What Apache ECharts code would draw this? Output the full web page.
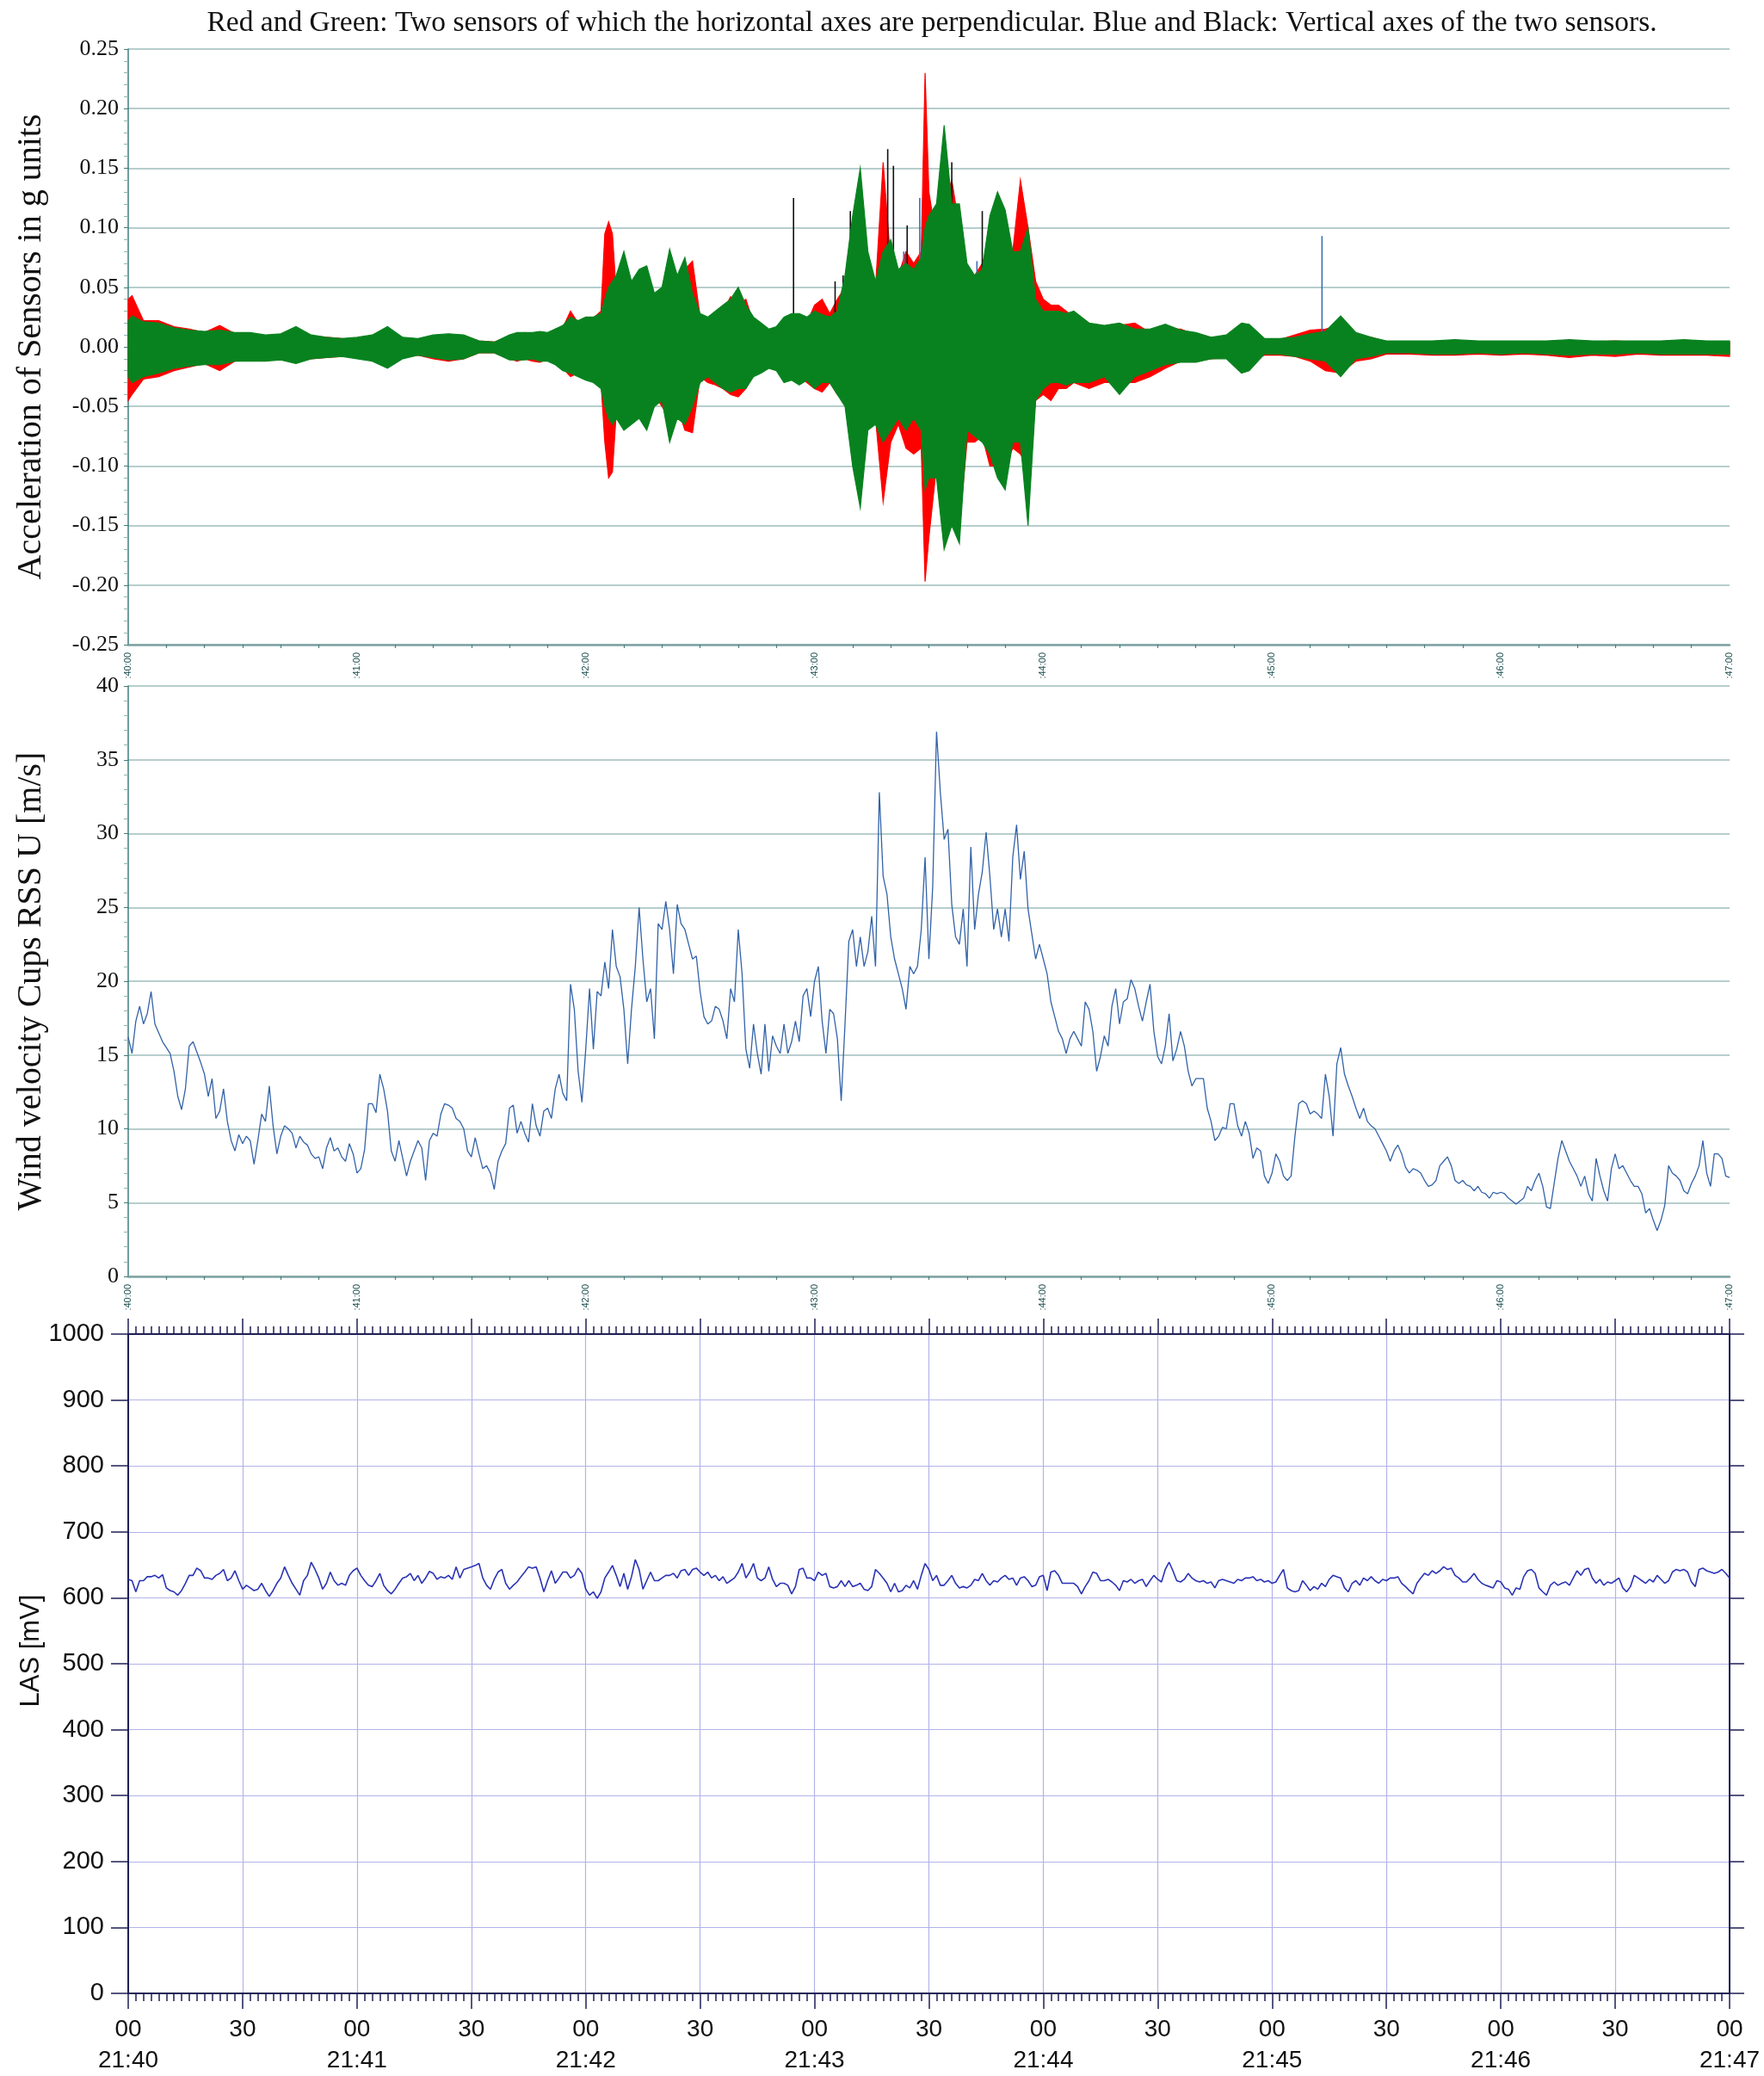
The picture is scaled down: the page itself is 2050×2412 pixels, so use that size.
<!DOCTYPE html>
<html><head><meta charset="utf-8">
<script src="https://cdn.jsdelivr.net/npm/echarts@6/dist/echarts.min.js"></script>
<style>html,body{margin:0;padding:0;background:#fff}#c{width:2050px;height:2412px}</style>
</head><body><div id="c"></div>
<script>
const titleText = "Red and Green: Two sensors of which the horizontal axes are perpendicular. Blue and Black: Vertical axes of the two sensors.";
const accName = "Acceleration of Sensors in g units";
const windName = "Wind velocity Cups RSS U [m/s]";
const lasName = "LAS [mV]";

// seconds after 21:40:00 at which the acceleration envelope was read
const accTime = [0,1,4,8,12,16,20,24,28,32,36,40,44,48,52,56,60,64,68,72,76,80,84,88,92,96,100,
 102,104,106,108,110,112,114,116,118,120,122,124,125,126,127,
 128,130,132,134,136,138,140,142,144,146,148,150,152,154,156,158,160,162,164,166,168,170,172,174,176,178,180,182,184,186,188,190,192,194,196,198,200,202,204,206,208,209,
 210,212,214,216,218,220,222,224,226,228,230,232,234,236,238,240,242,244,246,248,
 252,256,260,264,268,272,276,280,284,288,292,294,298,302,306,310,314,318,322,326,330,
 336,342,348,354,360,366,372,378,384,390,396,402,408,414,420];
// green sensor (horizontal) envelope, g
const greenHi = [.022,.026,.021,.020,.016,.014,.013,.014,.012,.012,.010,.011,.017,.010,.008,.007,.008,.010,.017,.008,.007,.010,.011,.010,.005,.004,.010,
 .012,.012,.012,.013,.012,.015,.018,.025,.022,.025,.025,.028,.040,.050,.055,
 .060,.080,.055,.065,.068,.045,.050,.082,.060,.075,.045,.028,.025,.030,.035,.040,.050,.035,.025,.020,.015,.017,.025,.028,.028,.025,.030,.027,.025,.030,.060,.110,.150,.080,.055,.080,.090,.065,.070,.065,.075,.100,
 .110,.120,.186,.120,.120,.070,.060,.065,.110,.130,.115,.080,.080,.100,.040,.030,.030,.030,.028,.030,
 .020,.018,.020,.015,.015,.019,.014,.012,.008,.010,.020,.019,.007,.007,.008,.011,.013,.026,.012,.008,.005,
 .005,.005,.006,.005,.005,.005,.005,.006,.005,.005,.005,.005,.006,.005,.005];
const greenLo = [-.025,-.030,-.025,-.022,-.018,-.016,-.015,-.015,-.012,-.012,-.012,-.011,-.014,-.010,-.009,-.008,-.010,-.012,-.018,-.010,-.007,-.009,-.011,-.010,-.005,-.005,-.011,
 -.011,-.011,-.010,-.012,-.012,-.015,-.020,-.022,-.025,-.028,-.030,-.035,-.050,-.060,-.065,
 -.060,-.070,-.065,-.060,-.070,-.050,-.045,-.080,-.060,-.065,-.050,-.030,-.025,-.030,-.035,-.038,-.035,-.035,-.025,-.022,-.018,-.020,-.030,-.028,-.032,-.028,-.035,-.030,-.030,-.040,-.050,-.100,-.135,-.070,-.065,-.080,-.070,-.060,-.070,-.060,-.070,-.120,
 -.110,-.110,-.170,-.150,-.165,-.070,-.075,-.080,-.090,-.110,-.120,-.080,-.080,-.150,-.045,-.035,-.030,-.030,-.032,-.030,
 -.030,-.025,-.040,-.025,-.020,-.015,-.013,-.013,-.010,-.010,-.022,-.020,-.006,-.006,-.008,-.010,-.012,-.025,-.010,-.008,-.005,
 -.005,-.006,-.006,-.005,-.006,-.005,-.006,-.007,-.006,-.006,-.005,-.006,-.006,-.006,-.006];
// red sensor (horizontal) envelope, g
const redHi = [.040,.043,.022,.022,.017,.015,.012,.018,.011,.010,.009,.010,.012,.009,.008,.007,.006,.008,.012,.007,.006,.008,.010,.009,.005,.004,.009,
 .011,.012,.010,.012,.010,.015,.016,.030,.020,.022,.024,.030,.095,.105,.095,
 .045,.050,.040,.050,.045,.035,.040,.055,.045,.065,.072,.025,.023,.025,.030,.042,.035,.040,.020,.015,.012,.015,.020,.022,.025,.020,.035,.040,.028,.040,.050,.080,.095,.060,.050,.155,.070,.060,.080,.070,.080,.230,
 .130,.090,.120,.140,.100,.060,.060,.070,.090,.120,.080,.080,.140,.100,.055,.040,.035,.035,.030,.025,
 .020,.015,.018,.020,.012,.015,.015,.010,.008,.008,.012,.010,.006,.006,.010,.014,.015,.018,.010,.008,.004,
 .004,.004,.005,.004,.004,.004,.004,.005,.004,.005,.004,.004,.005,.004,.004];
const redLo = [-.045,-.040,-.027,-.025,-.020,-.017,-.014,-.020,-.012,-.011,-.010,-.010,-.012,-.010,-.009,-.008,-.007,-.010,-.015,-.008,-.007,-.010,-.012,-.010,-.005,-.005,-.010,
 -.012,-.010,-.012,-.013,-.010,-.013,-.018,-.025,-.022,-.020,-.026,-.030,-.080,-.110,-.105,
 -.055,-.055,-.045,-.060,-.050,-.040,-.050,-.060,-.050,-.070,-.072,-.025,-.030,-.032,-.035,-.040,-.042,-.035,-.022,-.018,-.015,-.018,-.025,-.025,-.025,-.030,-.035,-.038,-.030,-.040,-.045,-.070,-.095,-.060,-.060,-.130,-.080,-.065,-.085,-.090,-.085,-.197,
 -.160,-.100,-.140,-.140,-.150,-.080,-.080,-.075,-.100,-.100,-.100,-.085,-.090,-.100,-.045,-.040,-.045,-.035,-.035,-.030,
 -.035,-.030,-.030,-.030,-.025,-.018,-.012,-.012,-.010,-.009,-.015,-.012,-.007,-.007,-.008,-.012,-.020,-.022,-.012,-.010,-.006,
 -.006,-.007,-.007,-.006,-.007,-.006,-.007,-.009,-.007,-.008,-.006,-.007,-.007,-.007,-.008];
// vertical-axis sensors: visible peaks only
const blackSpikeTime = [174.5,185.4,187.5,189.4,199.2,200.7,204.3,216.0,224.0,225.2];
const blackSpikeValue = [0.125,0.055,0.060,0.114,0.166,0.152,0.102,0.155,0.114,0.082];
const blueSpikeTime = [203.4,207.6,222.6,313.1];
const blueSpikeValue = [0.080,0.125,0.072,0.093];

// wind speed, one sample per second from 21:40:00
const windSpeed = [
16.2,15.1,17.3,18.3,17.1,17.8,19.3,17.1,16.5,15.9,
15.5,15.1,13.9,12.2,11.3,12.7,15.6,15.9,15.2,14.5,
13.7,12.2,13.4,10.7,11.2,12.7,10.5,9.2,8.5,9.6,
9.0,9.5,9.2,7.6,9.2,11.0,10.5,12.9,10.2,8.3,
9.5,10.2,10.0,9.7,8.7,9.5,9.1,8.9,8.3,8.0,
8.1,7.3,8.7,9.4,8.5,8.7,8.1,7.8,9.0,8.3,
7.0,7.3,8.6,11.7,11.7,11.1,13.7,12.7,11.2,8.5,
7.8,9.2,8.0,6.8,7.8,8.5,9.2,8.7,6.5,9.2,
9.7,9.5,11.0,11.7,11.6,11.4,10.7,10.5,10.0,8.5,
8.1,9.4,8.3,7.3,7.5,7.0,5.9,7.8,8.5,9.0,
11.4,11.6,9.7,10.5,9.7,9.1,11.7,10.2,9.5,11.2,
11.4,10.7,12.7,13.7,12.4,11.9,19.8,18.1,13.9,11.8,
15.4,19.5,15.4,19.3,19.0,21.3,19.5,23.5,21.0,20.3,
18.1,14.4,18.1,21.0,25.0,21.5,18.6,19.5,16.1,23.9,
23.5,25.4,23.5,20.5,25.2,23.9,23.5,22.5,21.5,21.7,
19.3,17.6,17.1,17.3,18.3,18.1,17.3,16.1,19.5,18.6,
23.5,20.5,15.4,14.1,17.1,15.1,13.7,17.1,13.9,16.3,
15.6,15.1,17.1,15.1,15.9,17.3,15.9,19.0,19.5,17.6,
20.0,21.0,17.3,15.1,18.1,17.8,16.1,11.9,17.1,22.7,
23.5,21.0,23.0,21.0,22.0,24.4,21.0,32.8,27.1,25.9,
23.0,21.5,20.5,19.5,18.1,21.0,20.5,21.0,23.5,28.4,
21.5,26.4,36.9,32.8,29.6,30.3,25.2,23.0,22.5,24.9,
21.0,29.1,23.5,25.9,27.4,30.1,27.1,23.5,24.9,23.0,
24.9,22.7,28.4,30.6,26.9,28.8,24.9,23.2,21.5,22.5,
21.5,20.5,18.6,17.6,16.6,16.1,15.1,16.1,16.6,16.1,
15.6,18.6,18.1,16.6,13.9,14.9,16.3,15.6,18.3,19.5,
17.1,18.6,18.8,20.1,19.5,18.3,17.3,18.6,19.8,16.6,
14.9,14.4,15.6,17.8,14.6,15.4,16.6,15.6,13.9,12.9,
13.4,13.4,13.4,11.4,10.5,9.2,9.5,10.1,10.0,11.7,
11.7,10.2,9.5,10.5,9.7,8.0,8.7,8.5,6.8,6.3,
7.0,8.3,7.8,6.8,6.5,6.8,9.5,11.7,11.9,11.7,
11.0,11.2,11.0,10.7,13.7,12.2,9.5,14.4,15.5,13.7,
12.9,12.2,11.4,10.7,11.4,10.5,10.2,10.0,9.5,9.0,
8.5,7.8,8.5,8.9,8.3,7.4,7.0,7.3,7.2,7.0,
6.5,6.1,6.2,6.5,7.5,7.8,8.1,7.5,6.5,6.3,
6.5,6.2,6.1,5.8,6.1,5.7,5.6,5.3,5.7,5.6,
5.7,5.6,5.3,5.1,4.9,5.1,5.3,6.1,5.8,6.5,
7.0,6.1,4.7,4.6,6.3,8.0,9.2,8.5,7.8,7.3,
6.8,6.1,6.8,5.6,5.1,8.0,6.8,5.8,5.1,7.3,
8.3,7.3,7.5,7.0,6.5,6.1,6.1,5.6,4.3,4.6,
3.8,3.1,3.8,4.8,7.5,7.0,6.8,6.5,5.8,5.6,
6.3,6.8,7.5,9.2,7.0,6.1,8.3,8.3,8.0,6.8,
6.7];

// LAS signal, mV, one sample per second from 21:40:00
const lasMilliVolt = [
628,626,609,626,626,632,632,634,630,635,
615,611,609,604,611,622,634,634,645,641,
630,630,628,634,637,643,626,630,641,626,
613,619,615,611,613,622,611,602,611,622,
630,647,634,622,613,604,626,634,654,643,
630,613,622,639,626,619,622,619,634,641,
645,634,626,619,617,626,637,619,611,606,
613,622,630,632,637,626,634,622,630,640,
637,628,632,630,634,628,647,630,643,645,
647,649,652,630,619,613,628,639,643,622,
613,619,624,632,639,647,645,647,630,609,
626,641,622,630,639,639,630,634,645,637,
613,604,609,599,609,630,639,649,634,617,
637,613,632,658,643,613,626,639,626,626,
630,634,634,637,630,641,643,634,643,645,
639,634,639,630,634,626,632,622,626,630,
639,652,630,639,652,630,626,630,647,628,
617,622,622,619,606,617,643,645,630,630,
626,639,634,637,617,615,617,626,617,626,
617,619,622,613,611,617,643,637,630,622,
609,622,609,611,619,615,626,613,634,652,
643,626,634,619,619,626,634,622,615,617,
615,619,628,626,637,626,619,626,624,630,
634,628,630,619,630,632,626,617,619,632,
634,611,639,641,634,622,622,622,622,617,
606,617,626,639,637,626,626,628,624,619,
611,626,624,628,622,626,628,617,626,634,
628,624,643,654,641,626,624,628,637,630,
626,624,626,622,624,615,626,628,626,624,
622,628,626,630,630,632,626,628,624,626,
622,624,634,643,615,611,609,611,626,619,
611,617,613,622,617,628,634,632,630,615,
609,622,626,619,630,626,632,626,622,628,
626,630,630,632,622,617,611,606,622,630,
637,634,641,637,641,647,643,645,634,630,
624,624,630,637,628,622,619,617,615,626,
624,615,613,604,615,613,632,641,643,637,
615,609,604,619,624,619,622,624,619,630,
641,634,643,645,630,622,628,619,624,622,
626,630,615,609,617,634,630,626,622,628,
624,634,628,622,626,639,643,641,643,639,
624,617,643,645,641,639,637,639,643,637,
630];

const serif = "'Liberation Serif', 'DejaVu Serif', serif";
const sans = "'Liberation Sans', Arial, sans-serif";
const tealAxis = '#3f7d7d', tealGrid = '#9fbcbc', tealBase = '#7fa3a3';
const navy = '#1f1f55', lasGrid = '#b3b3ea';

const chart = echarts.init(document.getElementById('c'), null, {renderer: 'canvas'});

function band(hi, lo, color, z) {
  return {
    type: 'custom', xAxisIndex: 0, yAxisIndex: 0, z: z, silent: true, animation: false,
    data: accTime.map((t, i) => [t, hi[i], lo[i]]),
    encode: {x: 0, y: [1, 2]},
    renderItem: function (params, api) {
      if (params.dataIndex !== 0) return null;
      const top = [], bot = [];
      for (let i = 0; i < accTime.length; i++) {
        top.push(api.coord([accTime[i], hi[i]]));
        bot.push(api.coord([accTime[i], lo[i]]));
      }
      return {type: 'polygon', shape: {points: top.concat(bot.reverse())},
        style: {fill: color, stroke: color, lineWidth: 1.2}};
    }
  };
}
function spikes(times, vals, color, z) {
  return {
    type: 'custom', xAxisIndex: 0, yAxisIndex: 0, z: z, silent: true, animation: false,
    data: times.map((t, i) => [t, vals[i]]),
    encode: {x: 0, y: 1},
    renderItem: function (params, api) {
      const p0 = api.coord([api.value(0), 0]);
      const p1 = api.coord([api.value(0), api.value(1)]);
      return {type: 'line', shape: {x1: p0[0], y1: p0[1], x2: p1[0], y2: p1[1]},
        style: {stroke: color, lineWidth: 1.6}};
    }
  };
}

function topXAxis(gridIndex) {
  return {
    type: 'value', gridIndex: gridIndex, min: 0, max: 420, interval: 60,
    axisLine: {show: true, onZero: false, lineStyle: {color: tealBase, width: 2.5}},
    axisTick: {show: false},
    minorTick: {show: true, splitNumber: 6, length: 4, lineStyle: {color: '#4f8080', width: 1.2}},
    splitLine: {show: false},
    axisLabel: {rotate: 90, margin: 9, fontSize: 11, fontFamily: sans, color: '#1f5050',
      formatter: v => ':' + (40 + v / 60) + ':00'}
  };
}

const option = {
  animation: false,
  backgroundColor: '#ffffff',
  graphic: [
    {type: 'text', x: 1083, y: 27,
      style: {text: titleText, font: '33.5px ' + serif, fill: '#111', textAlign: 'center', textVerticalAlign: 'middle'}},
    {type: 'text', x: 36, y: 1918, rotation: Math.PI / 2,
      style: {text: lasName, font: '31px ' + sans, fill: '#111', textAlign: 'center', textVerticalAlign: 'middle'}}
  ],
  grid: [
    {left: 149, top: 57, width: 1861, height: 692},
    {left: 149, top: 797, width: 1861, height: 686},
    {left: 149, top: 1550, width: 1861, height: 775}
  ],
  xAxis: [
    topXAxis(0),
    topXAxis(1),
    {type: 'value', gridIndex: 2, min: 0, max: 420, interval: 30, position: 'bottom',
      axisLine: {show: true, onZero: false, lineStyle: {color: navy, width: 2}},
      axisTick: {show: true, length: 18, lineStyle: {color: navy, width: 1.5}},
      minorTick: {show: true, splitNumber: 15, length: 9, lineStyle: {color: navy, width: 1.5}},
      splitLine: {show: true, lineStyle: {color: lasGrid, width: 1.2}},
      axisLabel: {margin: 24, fontSize: 28, lineHeight: 36, fontFamily: sans, color: '#111',
        formatter: v => (v % 60 === 0) ? '00\n21:' + (40 + v / 60) : '30'}},
    {type: 'value', gridIndex: 2, min: 0, max: 420, interval: 30, position: 'top',
      axisLine: {show: true, onZero: false, lineStyle: {color: navy, width: 2}},
      axisTick: {show: true, length: 18, lineStyle: {color: navy, width: 1.5}},
      minorTick: {show: true, splitNumber: 15, length: 9, lineStyle: {color: navy, width: 1.5}},
      splitLine: {show: false}, axisLabel: {show: false}}
  ],
  yAxis: [
    {type: 'value', gridIndex: 0, min: -0.25, max: 0.25, interval: 0.05,
      name: accName, nameLocation: 'middle', nameGap: 93,
      nameTextStyle: {fontFamily: serif, fontSize: 40, color: '#111'},
      axisLine: {show: true, onZero: false, lineStyle: {color: tealAxis, width: 1.5}},
      axisTick: {show: true, length: 5, lineStyle: {color: tealAxis}},
      splitLine: {show: true, lineStyle: {color: tealGrid, width: 1.5}},
      axisLabel: {margin: 11, fontSize: 26, fontFamily: serif, color: '#111',
        formatter: v => (Math.abs(v) < 1e-9 ? 0 : v).toFixed(2)}},
    {type: 'value', gridIndex: 1, min: 0, max: 40, interval: 5,
      name: windName, nameLocation: 'middle', nameGap: 93,
      nameTextStyle: {fontFamily: serif, fontSize: 40, color: '#111'},
      axisLine: {show: true, onZero: false, lineStyle: {color: tealAxis, width: 1.5}},
      axisTick: {show: true, length: 5, lineStyle: {color: tealAxis}},
      splitLine: {show: true, lineStyle: {color: tealGrid, width: 1.5}},
      axisLabel: {margin: 11, fontSize: 26, fontFamily: serif, color: '#111'}},
    {type: 'value', gridIndex: 2, min: 0, max: 1000, interval: 100,
      axisLine: {show: true, onZero: false, lineStyle: {color: navy, width: 2}},
      axisTick: {show: true, length: 20, lineStyle: {color: navy, width: 1.5}},
      splitLine: {show: true, lineStyle: {color: lasGrid, width: 1.2}},
      axisLabel: {margin: 28, fontSize: 29, fontFamily: sans, color: '#111', formatter: v => String(v)}},
    {type: 'value', gridIndex: 2, min: 0, max: 1000, interval: 100, position: 'right',
      axisLine: {show: true, onZero: false, lineStyle: {color: navy, width: 2}},
      axisTick: {show: true, length: 17, lineStyle: {color: navy, width: 1.5}},
      splitLine: {show: false}, axisLabel: {show: false}},
    {type: 'value', gridIndex: 0, min: -0.25, max: 0.25, interval: 0.05,
      axisLine: {show: false}, axisLabel: {show: false}, splitLine: {show: false},
      axisTick: {show: false, inside: true},
      minorTick: {show: true, splitNumber: 5, length: 5, lineStyle: {color: '#8fb3b3', width: 1}}},
    {type: 'value', gridIndex: 1, min: 0, max: 40, interval: 5,
      axisLine: {show: false}, axisLabel: {show: false}, splitLine: {show: false},
      axisTick: {show: false, inside: true},
      minorTick: {show: true, splitNumber: 5, length: 5, lineStyle: {color: '#8fb3b3', width: 1}}}
  ],
  series: [
    band(redHi, redLo, '#ff0000', 2),
    spikes(blackSpikeTime, blackSpikeValue, '#111111', 3),
    spikes(blueSpikeTime, blueSpikeValue, '#3f6fb5', 3),
    band(greenHi, greenLo, '#08821f', 4),
    {type: 'line', xAxisIndex: 1, yAxisIndex: 1, showSymbol: false, silent: true,
      data: windSpeed.map((v, i) => [i, v]),
      lineStyle: {color: '#3262a8', width: 1.3}},
    {type: 'line', xAxisIndex: 2, yAxisIndex: 2, showSymbol: false, silent: true,
      data: lasMilliVolt.map((v, i) => [i, v]),
      lineStyle: {color: '#2a33b5', width: 1.6}}
  ]
};
chart.setOption(option);
</script>
</body></html>
